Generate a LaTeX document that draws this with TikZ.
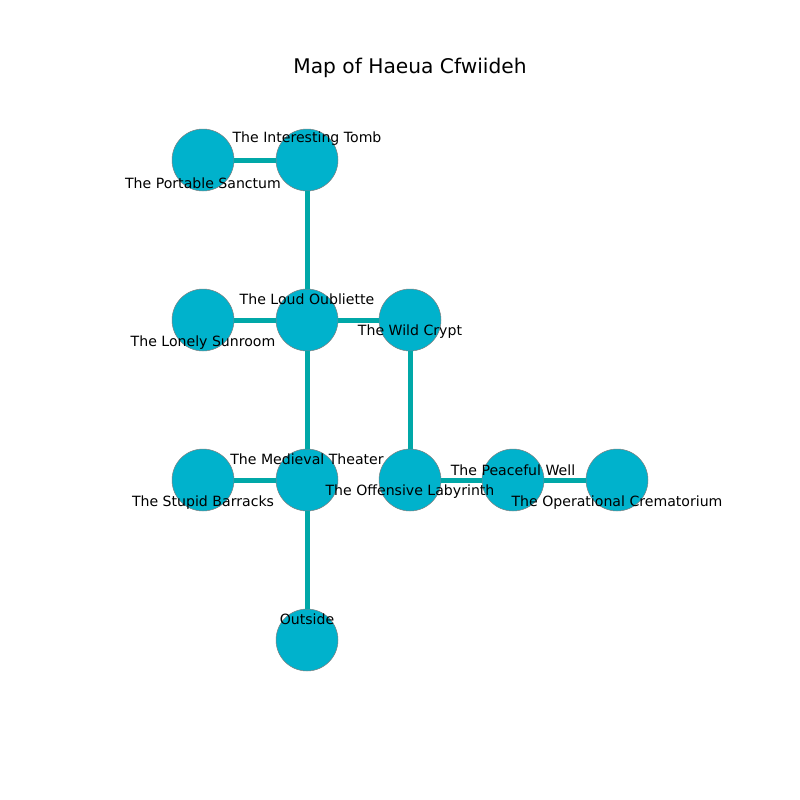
\documentclass[tikz,border=0pt]{standalone}
\usepackage{fontspec}
\setmainfont{DejaVu Sans}
\definecolor{roomfill}{HTML}{00B2CC}
\definecolor{pathcol}{HTML}{00A8A8}
\begin{document}
\begin{tikzpicture}[x=1pt,y=-1pt]
                \useasboundingbox (0,0) rectangle (800,800);
                \node[font=\fontsize{20.2}{24}\selectfont] (title) at (410,68) {Map of Haeua Cfwiideh};
                \begin{scope}[every node/.style={circle,draw=gray,line width=0.5pt,fill=roomfill,minimum size=62pt,inner sep=0pt}]
                    \node (sanctum) at (203,160) {};
                    \node (tomb) at (307,160) {};
                    \node (sunroom) at (203,320) {};
                    \node (oubliette) at (307,320) {};
                    \node (crypt) at (410,320) {};
                    \node (barracks) at (203,480) {};
                    \node (theater) at (307,480) {};
                    \node (labyrinth) at (410,480) {};
                    \node (well) at (513,480) {};
                    \node (crematorium) at (617,480) {};
                    \node (outside) at (307,640) {};
                \end{scope}
                \begin{scope}[pathcol,line width=5pt]
                    \draw (sanctum) edge (tomb);
                    \draw (tomb) edge (oubliette);
                    \draw (sunroom) edge (oubliette);
                    \draw (oubliette) edge (crypt);
                    \draw (oubliette) edge (theater);
                    \draw (crypt) edge (labyrinth);
                    \draw (barracks) edge (theater);
                    \draw (theater) edge (outside);
                    \draw (labyrinth) edge (well);
                    \draw (well) edge (crematorium);
                \end{scope}
                \begin{scope}[every node/.style={font=\fontsize{14.1}{16}\selectfont,inner sep=0pt}]
                    \node (sanctum-l) at (203,183) {The Portable Sanctum};
                    \node (tomb-l) at (307,139) {The Interesting Tomb};
                    \node (sunroom-l) at (203,343) {The Lonely Sunroom};
                    \node (oubliette-l) at (307,299) {The Loud Oubliette};
                    \node (crypt-l) at (410,332) {The Wild Crypt};
                    \node (barracks-l) at (203,503) {The Stupid Barracks};
                    \node (theater-l) at (307,459) {The Medieval Theater};
                    \node (labyrinth-l) at (410,492) {The Offensive Labyrinth};
                    \node (well-l) at (513,470) {The Peaceful Well};
                    \node (crematorium-l) at (617,503) {The Operational Crematorium};
                    \node (outside-l) at (307,619) {Outside};
                \end{scope}
            \end{tikzpicture}
\end{document}
